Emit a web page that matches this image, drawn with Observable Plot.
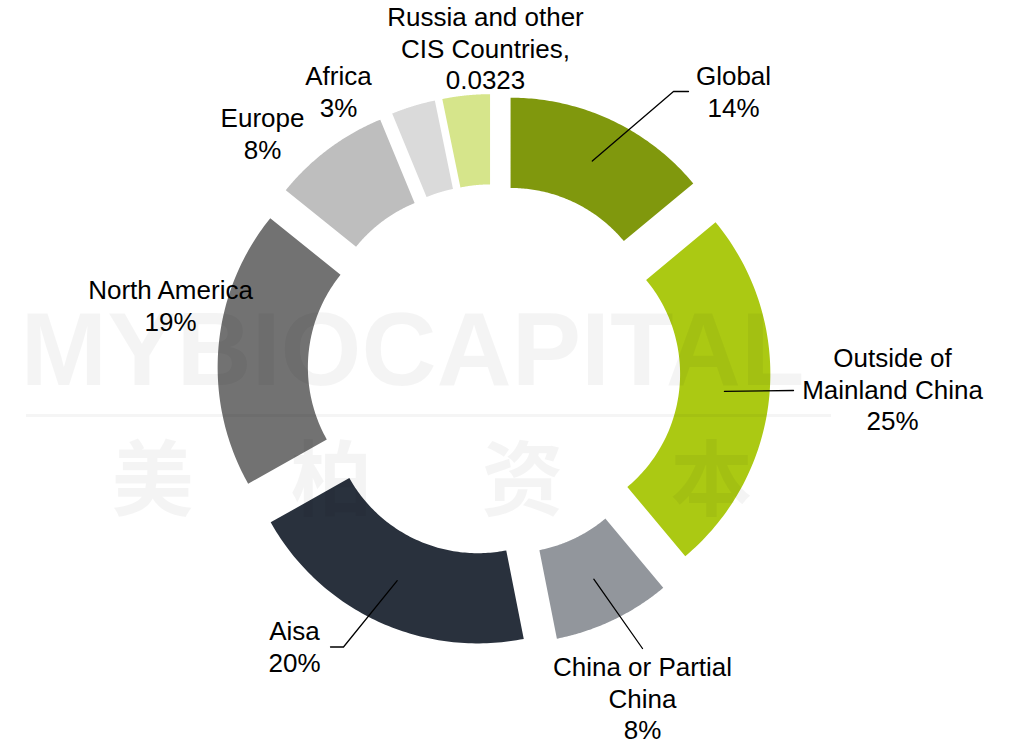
<!DOCTYPE html>
<html>
<head>
<meta charset="utf-8">
<script src="https://cdn.jsdelivr.net/npm/d3@7"></script>
<script src="https://cdn.jsdelivr.net/npm/@observablehq/plot@0.6"></script>
<style>
  html, body { margin: 0; padding: 0; background: #fff; }
  #chart svg { display: block; }
</style>
</head>
<body>
<div id="chart"></div>
<script>
// ---- Data ----
const regions = ["Global", "Outside of Mainland China", "China or Partial China", "Aisa", "North America", "Europe", "Africa", "Russia and other CIS Countries"];
const shares = [14, 25, 8, 20, 19, 8, 3, 3.23];
const shareText = ["14%", "25%", "8%", "20%", "19%", "8%", "3%", "0.0323"];
const labelText = ["Global\n14%", "Outside of\nMainland China\n25%", "China or Partial\nChina\n8%", "Aisa\n20%", "North America\n19%", "Europe\n8%", "Africa\n3%", "Russia and other\nCIS Countries,\n0.0323"];
const palette = ["#80980d", "#abc913", "#92969c", "#29313d", "#727272", "#bebebe", "#dadada", "#d6e58b"];
const watermarkWord = ["MYBIOCAPITAL"];
const watermarkChars = ["美", "柏", "资", "本"];

// ---- Layout (pixels -> chart units) ----
const W = 1013, H = 745;
const CX = 493.5, CY = 370, RPX = 237.5;
const u = px => (px - CX) / RPX;
const v = py => (CY - py) / RPX;
const OUTER = 1, INNER = 0.62, EXPLODE = 39 / RPX;

// label block centres (px)
const labelPos = [[733, 90], [892, 388], [642, 697], [294, 645], [170, 304], [262, 132], [338, 90], [485, 47]];
// leader line elbows/ends (px), null = no leader
const leaderEnds = [[[673, 91], [688, 91]], [[793, 390]], [[642, 648]], [[343, 646.5], [330, 646.5]], null, null, null, null];

const total = d3.sum(shares);
let acc = 0;
const slices = regions.map((r, i) => {
  const a0 = acc / total * 2 * Math.PI;
  acc += shares[i];
  const a1 = acc / total * 2 * Math.PI;
  const mid = (a0 + a1) / 2;
  return {region: r, i, a0, a1, mid, ox: EXPLODE * Math.sin(mid), oy: EXPLODE * Math.cos(mid)};
});

// polygon points for each donut slice
const polyPts = [];
for (const s of slices) {
  const n = 80;
  for (let k = 0; k <= n; k++) {
    const a = s.a0 + (s.a1 - s.a0) * k / n;
    polyPts.push({region: s.region, x: s.ox + OUTER * Math.sin(a), y: s.oy + OUTER * Math.cos(a)});
  }
  for (let k = n; k >= 0; k--) {
    const a = s.a0 + (s.a1 - s.a0) * k / n;
    polyPts.push({region: s.region, x: s.ox + INNER * Math.sin(a), y: s.oy + INNER * Math.cos(a)});
  }
}

// leader lines
const leaderPts = [];
slices.forEach((s, i) => {
  if (!leaderEnds[i]) return;
  const rm = (OUTER + INNER) / 2;
  leaderPts.push({region: s.region, x: s.ox + rm * Math.sin(s.mid), y: s.oy + rm * Math.cos(s.mid)});
  for (const [px, py] of leaderEnds[i]) leaderPts.push({region: s.region, x: u(px), y: v(py)});
});

const labels = slices.map((s, i) => ({region: s.region, text: labelText[i], x: u(labelPos[i][0]), y: v(labelPos[i][1])}));

const wmChars = watermarkChars.map((c, i) => ({c, x: u([152, 331, 522, 711][i]), y: v(482)}));

const chart = Plot.plot({
  width: W,
  height: H,
  margin: 0,
  style: {background: "#fff", fontFamily: "'Liberation Sans', Arial, sans-serif"},
  x: {domain: [u(0), u(W)], axis: null},
  y: {domain: [v(H), v(0)], axis: null},
  color: {domain: regions, range: palette},
  marks: [
    Plot.line(polyPts, {x: "x", y: "y", z: "region", fill: "region", stroke: null, curve: "linear-closed"}),
    Plot.text(watermarkWord, {x: u(412), y: v(351), text: d => d, fontSize: 104, fontWeight: "bold", fill: "#000", fillOpacity: 0.045, fontFamily: "'Liberation Sans', Arial, sans-serif"}),
    Plot.ruleY([v(415)], {x1: u(26), x2: u(831), stroke: "#000", strokeOpacity: 0.04, strokeWidth: 3}),
    Plot.text(wmChars, {x: "x", y: "y", text: "c", fontSize: 82, fontWeight: "bold", fill: "#000", fillOpacity: 0.045, fontFamily: "'Noto Sans CJK SC', sans-serif"}),
    Plot.line(leaderPts, {x: "x", y: "y", z: "region", stroke: "#000", strokeWidth: 1.3}),
    Plot.text(labels, {x: "x", y: "y", text: "text", fontSize: 26, lineHeight: 1.22, textAnchor: "middle", lineAnchor: "middle", fill: "#000"})
  ]
});
document.getElementById("chart").appendChild(chart);
</script>
</body>
</html>
